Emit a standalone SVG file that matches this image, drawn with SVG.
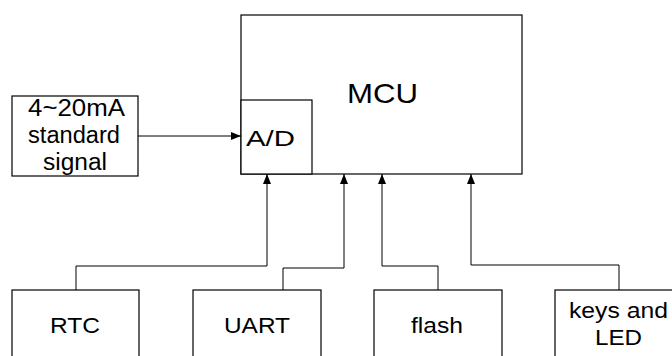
<svg xmlns="http://www.w3.org/2000/svg" width="672" height="356" viewBox="0 0 672 356">
<style>
.box{fill:#fff;stroke:#000;stroke-width:1.2}
.ln{fill:none;stroke:#000;stroke-width:1}
text{font-family:"Liberation Sans",Arial,sans-serif;fill:#000}
</style>
<defs>
<marker id="ah" markerWidth="10" markerHeight="8" refX="10" refY="4" orient="auto" markerUnits="userSpaceOnUse">
<path d="M0,0 L10,4 L0,8 Z" fill="#000"/>
</marker>
</defs>
<rect width="672" height="356" fill="#fff"/>
<g id="mcu">
<rect class="box" x="241" y="15" width="281" height="159"/>
<text x="347" y="103" font-size="28" textLength="71" lengthAdjust="spacingAndGlyphs">MCU</text>
</g>
<g id="ad">
<rect class="box" x="241" y="100" width="71" height="74"/>
<text x="246" y="146" font-size="22" textLength="49" lengthAdjust="spacingAndGlyphs">A/D</text>
</g>
<g id="input">
<rect class="box" x="12" y="96" width="126" height="80"/>
<text x="28" y="116" font-size="23.5" textLength="97" lengthAdjust="spacingAndGlyphs">4~20mA</text>
<text x="28" y="143" font-size="23.5" textLength="92" lengthAdjust="spacingAndGlyphs">standard</text>
<text x="43" y="170" font-size="23.5" textLength="64" lengthAdjust="spacingAndGlyphs">signal</text>
</g>
<g id="rtc">
<rect class="box" x="12" y="290" width="127" height="80"/>
<text x="50" y="333" font-size="22" textLength="50" lengthAdjust="spacingAndGlyphs">RTC</text>
</g>
<g id="uart">
<rect class="box" x="193" y="290" width="128" height="80"/>
<text x="224" y="333" font-size="22" textLength="66" lengthAdjust="spacingAndGlyphs">UART</text>
</g>
<g id="flash">
<rect class="box" x="374" y="290" width="128" height="80"/>
<text x="411" y="333" font-size="22" textLength="52" lengthAdjust="spacingAndGlyphs">flash</text>
</g>
<g id="keys">
<rect class="box" x="555" y="290" width="130" height="80"/>
<text x="569" y="318" font-size="22" textLength="99" lengthAdjust="spacingAndGlyphs">keys and</text>
<text x="595" y="345" font-size="22" textLength="47" lengthAdjust="spacingAndGlyphs">LED</text>
</g>
<g id="connectors">
<path class="ln" d="M138,136 H241" marker-end="url(#ah)"/>
<path class="ln" d="M76,290 V266 H267 V174" marker-end="url(#ah)"/>
<path class="ln" d="M283,290 V268 H344 V174" marker-end="url(#ah)"/>
<path class="ln" d="M438,290 V266 H382 V174" marker-end="url(#ah)"/>
<path class="ln" d="M619,290 V265 H471 V174" marker-end="url(#ah)"/>
</g>
</svg>
